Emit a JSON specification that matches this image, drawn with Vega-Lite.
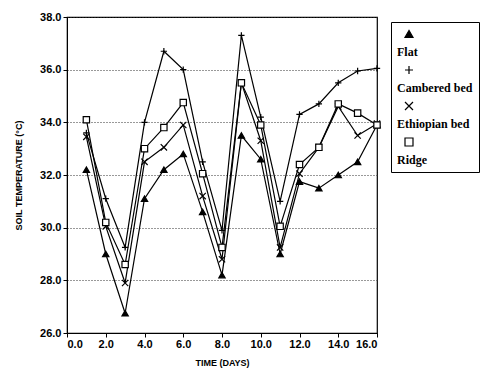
{
  "$schema": "https://vega.github.io/schema/vega-lite/v6.json",
  "width": 310,
  "height": 316,
  "autosize": {"type": "none"},
  "padding": {"left": 67, "top": 17, "right": 108, "bottom": 38},
  "background": "white",
  "config": {
    "view": {"stroke": "black", "strokeWidth": 1.2},
    "axis": {
      "labelFont": "Liberation Sans",
      "labelFontWeight": "bold",
      "labelFontSize": 11,
      "labelColor": "black",
      "titleFont": "Liberation Sans",
      "titleFontWeight": "bold",
      "titleColor": "black",
      "domainColor": "black",
      "tickColor": "black",
      "tickSize": 4
    }
  },
  "data": {
    "values": [
      {"day": 1, "series": "Flat", "temp": 32.2},
      {"day": 2, "series": "Flat", "temp": 29.0},
      {"day": 3, "series": "Flat", "temp": 26.75},
      {"day": 4, "series": "Flat", "temp": 31.1},
      {"day": 5, "series": "Flat", "temp": 32.2},
      {"day": 6, "series": "Flat", "temp": 32.8},
      {"day": 7, "series": "Flat", "temp": 30.6},
      {"day": 8, "series": "Flat", "temp": 28.2},
      {"day": 9, "series": "Flat", "temp": 33.5},
      {"day": 10, "series": "Flat", "temp": 32.6},
      {"day": 11, "series": "Flat", "temp": 29.0},
      {"day": 12, "series": "Flat", "temp": 31.75},
      {"day": 13, "series": "Flat", "temp": 31.5},
      {"day": 14, "series": "Flat", "temp": 32.0},
      {"day": 15, "series": "Flat", "temp": 32.5},
      {"day": 16, "series": "Flat", "temp": 33.9},
      {"day": 1, "series": "Cambered bed", "temp": 33.6},
      {"day": 2, "series": "Cambered bed", "temp": 31.1},
      {"day": 3, "series": "Cambered bed", "temp": 29.25},
      {"day": 4, "series": "Cambered bed", "temp": 34.0},
      {"day": 5, "series": "Cambered bed", "temp": 36.7},
      {"day": 6, "series": "Cambered bed", "temp": 36.0},
      {"day": 7, "series": "Cambered bed", "temp": 32.5},
      {"day": 8, "series": "Cambered bed", "temp": 29.9},
      {"day": 9, "series": "Cambered bed", "temp": 37.3},
      {"day": 10, "series": "Cambered bed", "temp": 34.2},
      {"day": 11, "series": "Cambered bed", "temp": 31.0},
      {"day": 12, "series": "Cambered bed", "temp": 34.3},
      {"day": 13, "series": "Cambered bed", "temp": 34.7},
      {"day": 14, "series": "Cambered bed", "temp": 35.5},
      {"day": 15, "series": "Cambered bed", "temp": 35.95},
      {"day": 16, "series": "Cambered bed", "temp": 36.05},
      {"day": 1, "series": "Ethiopian bed", "temp": 33.45},
      {"day": 2, "series": "Ethiopian bed", "temp": 30.05},
      {"day": 3, "series": "Ethiopian bed", "temp": 27.9},
      {"day": 4, "series": "Ethiopian bed", "temp": 32.5},
      {"day": 5, "series": "Ethiopian bed", "temp": 33.05},
      {"day": 6, "series": "Ethiopian bed", "temp": 33.9},
      {"day": 7, "series": "Ethiopian bed", "temp": 31.2},
      {"day": 8, "series": "Ethiopian bed", "temp": 28.8},
      {"day": 9, "series": "Ethiopian bed", "temp": 35.5},
      {"day": 10, "series": "Ethiopian bed", "temp": 33.3},
      {"day": 11, "series": "Ethiopian bed", "temp": 29.25},
      {"day": 12, "series": "Ethiopian bed", "temp": 32.05},
      {"day": 13, "series": "Ethiopian bed", "temp": 33.05},
      {"day": 14, "series": "Ethiopian bed", "temp": 34.6},
      {"day": 15, "series": "Ethiopian bed", "temp": 33.5},
      {"day": 16, "series": "Ethiopian bed", "temp": 33.95},
      {"day": 1, "series": "Ridge", "temp": 34.1},
      {"day": 2, "series": "Ridge", "temp": 30.2},
      {"day": 3, "series": "Ridge", "temp": 28.6},
      {"day": 4, "series": "Ridge", "temp": 33.0},
      {"day": 5, "series": "Ridge", "temp": 33.8},
      {"day": 6, "series": "Ridge", "temp": 34.75},
      {"day": 7, "series": "Ridge", "temp": 32.05},
      {"day": 8, "series": "Ridge", "temp": 29.25},
      {"day": 9, "series": "Ridge", "temp": 35.5},
      {"day": 10, "series": "Ridge", "temp": 33.9},
      {"day": 11, "series": "Ridge", "temp": 30.05},
      {"day": 12, "series": "Ridge", "temp": 32.4},
      {"day": 13, "series": "Ridge", "temp": 33.05},
      {"day": 14, "series": "Ridge", "temp": 34.7},
      {"day": 15, "series": "Ridge", "temp": 34.35},
      {"day": 16, "series": "Ridge", "temp": 33.9}
    ]
  },
  "encoding": {
    "x": {
      "field": "day",
      "type": "quantitative",
      "scale": {"domain": [0, 16], "nice": false},
      "axis": {
        "values": [0, 2, 4, 6, 8, 10, 12, 14, 16],
        "format": ".1f",
        "grid": false,
        "title": "TIME (DAYS)",
        "titleFontSize": 9,
        "titlePadding": 9,
        "labelPadding": 1
      }
    },
    "y": {
      "field": "temp",
      "type": "quantitative",
      "scale": {"domain": [26, 38], "nice": false, "zero": false},
      "axis": {
        "values": [26, 28, 30, 32, 34, 36, 38],
        "format": ".1f",
        "grid": true,
        "gridColor": "#333",
        "gridDash": [1, 2],
        "gridWidth": 1,
        "title": "SOIL TEMPERATURE (°C)",
        "titleFontSize": 9,
        "titlePadding": 16,
        "labelPadding": 2
      }
    }
  },
  "layer": [
    {
      "mark": {"type": "line", "strokeWidth": 1.2},
      "encoding": {
        "stroke": {
          "field": "series",
          "type": "nominal",
          "scale": {
            "domain": ["Flat", "Cambered bed", "Ethiopian bed", "Ridge"],
            "range": ["black", "black", "black", "black"]
          },
          "legend": {
            "orient": "none",
            "legendX": 324,
            "legendY": 5,
            "title": null,
            "strokeColor": "black",
            "padding": 6,
            "labelFont": "Liberation Serif",
            "labelFontWeight": "bold",
            "labelFontSize": 12,
            "labelColor": "black",
            "labelBaseline": "top",
            "labelOffset": -18,
            "symbolOffset": 6,
            "rowPadding": 5,
            "symbolSize": 64,
            "symbolStrokeWidth": 1.2,
            "encode": {
              "symbols": {
                "update": {
                  "strokeWidth": {"value": 1.2},
                  "fill": {"signal": "datum.value === 'Flat' ? 'black' : datum.value === 'Ridge' ? 'white' : 'transparent'"}
                }
              },
              "labels": {
                "update": {
                  "dy": {"value": 13}
                }
              }
            }
          }
        }
      }
    },
    {
      "mark": {"type": "point", "stroke": "black", "strokeWidth": 1.2, "opacity": 1},
      "encoding": {
        "shape": {
          "field": "series",
          "type": "nominal",
          "scale": {
            "domain": ["Flat", "Cambered bed", "Ethiopian bed", "Ridge"],
            "range": ["triangle-up", "M-1,0L1,0M0,-1L0,1", "M-1,-1L1,1M-1,1L1,-1", "square"]
          },
          "legend": null
        },
        "fill": {
          "field": "series",
          "type": "nominal",
          "scale": {
            "domain": ["Flat", "Cambered bed", "Ethiopian bed", "Ridge"],
            "range": ["black", "transparent", "transparent", "white"]
          },
          "legend": null
        },
        "size": {"value": 40}
      }
    }
  ]
}
